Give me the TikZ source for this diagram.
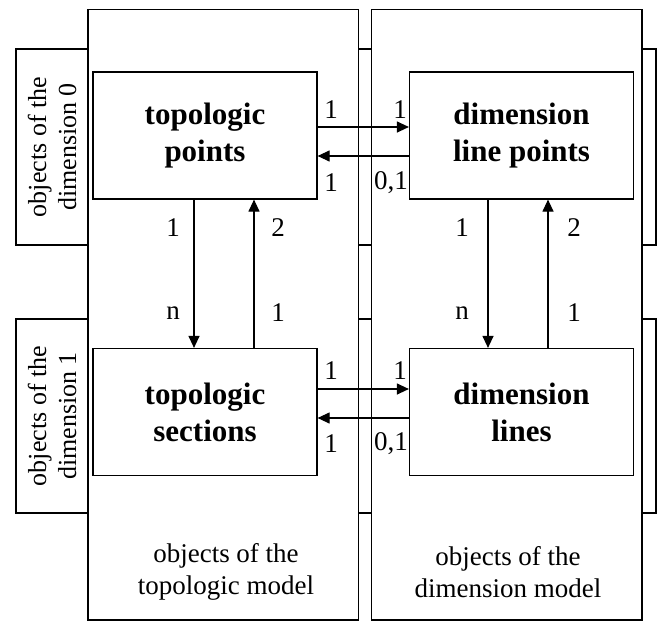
\documentclass[tikz,border=0pt]{standalone}
\usepackage{fontspec}
\setmainfont{Liberation Serif}
\usetikzlibrary{arrows.meta}
\begin{document}
\begin{tikzpicture}[x=1pt,y=-1pt,line width=1.2pt,
  band/.style={draw,fill=white},
  col/.style={draw,fill=white},
  box/.style={draw,fill=white,minimum width=224pt,minimum height=127pt,inner sep=0pt,
    font=\fontsize{31}{37}\selectfont\bfseries,align=center},
  arr/.style={-{Triangle[length=12pt,width=11pt]}},
  lab/.style={font=\fontsize{27}{30}\selectfont,inner sep=0pt},
  side/.style={font=\fontsize{26}{30}\selectfont,align=center,rotate=90,inner sep=0pt},
  foot/.style={font=\fontsize{27}{32}\selectfont,align=center,inner sep=0pt}]
\useasboundingbox (0,0) rectangle (663,621);
% row bands
\draw[band] (16,49) rectangle (656,245);
\draw[band] (16,319) rectangle (656,513);
\node[side] (d0) at (52,147) {objects of the\\dimension 0};
\node[side] (d1) at (52,416) {objects of the\\dimension 1};
% columns
\draw[col] (88,9.5) rectangle (358.5,620);
\draw[col] (371.5,9.5) rectangle (642,620);
\node[foot] (ft) at (226,572) {objects of the\\topologic model};
\node[foot] (fd) at (508,572) {objects of the\\dimension model};
% boxes
\node[box] (tp) at (205,135.5) {topologic\\points};
\node[box] (dlp) at (521.5,135.5) {dimension\\line points};
\node[box] (ts) at (205,412) {topologic\\sections};
\node[box] (dl) at (521.5,412) {dimension\\lines};
% helper coordinates
\coordinate (y1) at (0,127);
\coordinate (y2) at (0,156);
\coordinate (y3) at (0,389);
\coordinate (y4) at (0,418);
\coordinate (xa) at (194,0);
\coordinate (xb) at (254,0);
\coordinate (xc) at (488,0);
\coordinate (xd) at (548,0);
% horizontal arrows
\draw[arr] (tp.east |- y1) -- (dlp.west |- y1);
\draw[arr] (dlp.west |- y2) -- (tp.east |- y2);
\draw[arr] (ts.east |- y3) -- (dl.west |- y3);
\draw[arr] (dl.west |- y4) -- (ts.east |- y4);
% vertical arrows
\draw[arr] (tp.south -| xa) -- (ts.north -| xa);
\draw[arr] (ts.north -| xb) -- (tp.south -| xb);
\draw[arr] (dlp.south -| xc) -- (dl.north -| xc);
\draw[arr] (dl.north -| xd) -- (dlp.south -| xd);
% multiplicities
\node[lab] at (331,110) {1};
\node[lab] at (400,110) {1};
\node[lab] at (331,183) {1};
\node[lab] at (391,183) {0,1};
\node[lab] at (331,371) {1};
\node[lab] at (400,371) {1};
\node[lab] at (331,444) {1};
\node[lab] at (391,444) {0,1};
\node[lab] at (173,228) {1};
\node[lab] at (278,228) {2};
\node[lab] at (173,313) {n};
\node[lab] at (278,313) {1};
\node[lab] at (462,228) {1};
\node[lab] at (574,228) {2};
\node[lab] at (462,313) {n};
\node[lab] at (574,313) {1};
\end{tikzpicture}
\end{document}
